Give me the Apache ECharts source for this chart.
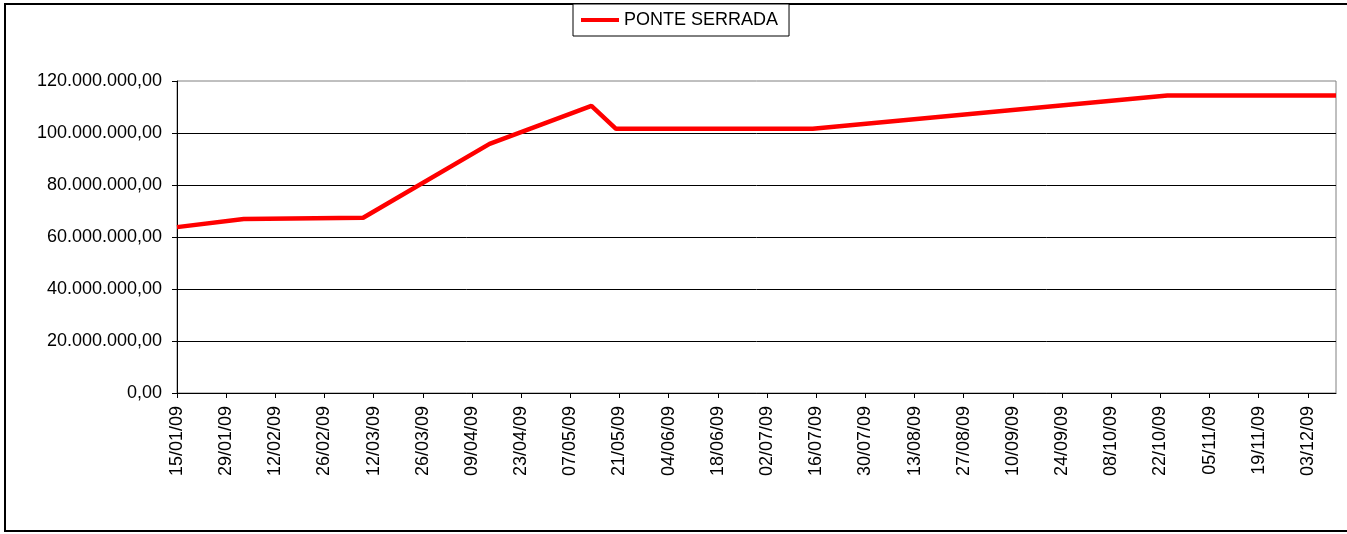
<!DOCTYPE html>
<html>
<head>
<meta charset="utf-8">
<script src="https://cdn.jsdelivr.net/npm/echarts@6/dist/echarts.min.js"></script>
<style>
  html, body { margin: 0; padding: 0; background: #fff; }
  #chart { width: 1347px; height: 534px; }
</style>
</head>
<body>
<div id="chart"></div>
<script>
  // datas dos pontos e valores da série
  var datas = ['2009-01-15', '2009-02-03', '2009-03-09', '2009-04-14', '2009-05-13',
               '2009-05-20', '2009-07-15', '2009-10-24', '2009-12-11'];
  var valores = [63800000, 66900000, 67400000, 95800000, 110400000,
                 101600000, 101600000, 114400000, 114400000];
  var serieNome = 'PONTE SERRADA';

  // rótulos do eixo x (a cada 14 dias)
  var xTicks = ['15/01/09', '29/01/09', '12/02/09', '26/02/09', '12/03/09', '26/03/09',
                '09/04/09', '23/04/09', '07/05/09', '21/05/09', '04/06/09', '18/06/09',
                '02/07/09', '16/07/09', '30/07/09', '13/08/09', '27/08/09', '10/09/09',
                '24/09/09', '08/10/09', '22/10/09', '05/11/09', '19/11/09', '03/12/09'];
  var yTicks = [0, 20000000, 40000000, 60000000, 80000000, 100000000, 120000000];

  var DIA = 86400000;
  var base = Date.UTC(2009, 0, 15);

  function isoParaDia(s) {
    var p = s.split('-');
    return Math.round((Date.UTC(+p[0], +p[1] - 1, +p[2]) - base) / DIA);
  }
  function rotuloParaDia(s) {
    var p = s.split('/');
    return Math.round((Date.UTC(2000 + +p[2], +p[1] - 1, +p[0]) - base) / DIA);
  }
  function formatoBR(v) {
    var partes = v.toFixed(2).split('.');
    return partes[0].replace(/\B(?=(\d{3})+(?!\d))/g, '.') + ',' + partes[1];
  }

  var diasTicks = xTicks.map(rotuloParaDia);
  var mapaRotulos = {};
  diasTicks.forEach(function (d, i) { mapaRotulos[d] = xTicks[i]; });

  var dados = datas.map(function (d, i) { return [isoParaDia(d), valores[i]]; });
  var diaMax = dados[dados.length - 1][0];

  var fonte = "'Liberation Sans', Arial, sans-serif";
  var chart = echarts.init(document.getElementById('chart'));
  chart.setOption({
    animation: false,
    backgroundColor: '#ffffff',
    textStyle: { fontFamily: fonte },
    graphic: [{
      type: 'rect',
      shape: { x: 5, y: 4, width: 1350, height: 527 },
      style: { fill: 'none', stroke: '#000', lineWidth: 2 },
      silent: true
    }],
    legend: {
      show: true,
      left: 573,
      top: 4,
      padding: [7, 11, 7, 8],
      borderColor: '#000',
      borderWidth: 1,
      backgroundColor: '#fff',
      icon: 'rect',
      itemWidth: 38,
      itemHeight: 4,
      itemGap: 5,
      textStyle: { color: '#000', fontSize: 18, fontFamily: fonte }
    },
    grid: {
      left: 177,
      right: 11,
      top: 81,
      bottom: 141,
      show: true,
      borderColor: '#808080',
      borderWidth: 1,
      backgroundColor: '#fff'
    },
    xAxis: {
      type: 'value',
      min: 0,
      max: diaMax,
      axisLine: { show: true, lineStyle: { color: '#000', width: 1 } },
      axisTick: { show: true, length: 5, customValues: diasTicks, lineStyle: { color: '#000' } },
      axisLabel: {
        customValues: diasTicks,
        rotate: 90,
        margin: 13,
        fontSize: 18,
        color: '#000',
        fontFamily: fonte,
        formatter: function (v) { return mapaRotulos[v] || ''; }
      },
      splitLine: { show: false }
    },
    yAxis: {
      type: 'value',
      min: yTicks[0],
      max: yTicks[yTicks.length - 1],
      interval: yTicks[1] - yTicks[0],
      axisLine: { show: true, lineStyle: { color: '#000', width: 1 } },
      axisTick: { show: true, length: 5, lineStyle: { color: '#000' } },
      axisLabel: {
        margin: 15,
        fontSize: 18,
        color: '#000',
        fontFamily: fonte,
        formatter: formatoBR
      },
      splitLine: {
        show: true,
        showMaxLine: false,
        lineStyle: { color: '#000', width: 1 }
      }
    },
    series: [{
      name: serieNome,
      type: 'line',
      symbol: 'none',
      lineStyle: { color: '#ff0000', width: 4.5 },
      itemStyle: { color: '#ff0000' },
      data: dados
    }]
  });
</script>
</body>
</html>
